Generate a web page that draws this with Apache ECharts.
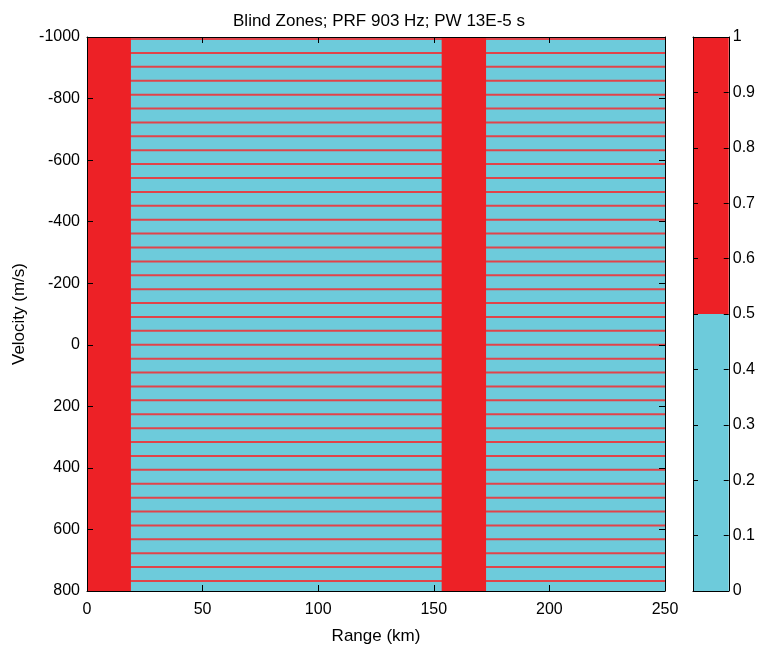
<!DOCTYPE html>
<html>
<head>
<meta charset="utf-8">
<title>Blind Zones</title>
<script src="https://cdn.jsdelivr.net/npm/echarts@6/dist/echarts.min.js"></script>
<style>
  html, body { margin: 0; padding: 0; background: #fff; }
  #chart { width: 758px; height: 651px; }
</style>
</head>
<body>
<div id="chart"></div>
<script>
// Axis extents
const rangeExtent = [0, 250];          // km
const velocityExtent = [-1000, 800];   // m/s

// Eclipsed range zones (km), value 1
const blindRanges = [[0, 19.0], [153.4, 172.6]];

// Blind speeds (m/s), value 1
const blindVelocities = [
  -993.3, -948.2, -903.0, -857.9, -812.7, -767.6, -722.4, -677.3, -632.1, -587.0,
  -541.8, -496.7, -451.5, -406.4, -361.2, -316.1, -270.9, -225.8, -180.6, -135.5,
  -90.3, -45.2, 0.0, 45.2, 90.3, 135.5, 180.6, 225.8, 270.9, 316.1,
  361.2, 406.4, 451.5, 496.7, 541.8, 587.0, 632.1, 677.3, 722.4, 767.6
];

// Colour bar segments: [from, to, level]
const colorbarLevels = [[0, 0.5, 0], [0.5, 1, 1]];

const CLEAR = '#6DCBDB';
const BLIND = '#ED2126';
const FONT = "'Liberation Sans', Arial, Helvetica, sans-serif";
const levelColor = v => (v >= 0.5 ? BLIND : CLEAR);

const chart = echarts.init(document.getElementById('chart'), null, { renderer: 'canvas' });

const tickLabel = { color: '#000', fontSize: 16, fontFamily: FONT };
const boxLine = { show: true, onZero: false, lineStyle: { color: '#000', width: 1 } };
const inTick = len => ({ show: true, inside: true, length: len, lineStyle: { color: '#000', width: 1 } });
const plain = v => String(+Number(v).toFixed(1));

function rectItem(params, api, x0, x1, y0, y1, color) {
  const p0 = api.coord([x0, y0]);
  const p1 = api.coord([x1, y1]);
  return {
    type: 'rect',
    shape: {
      x: Math.min(p0[0], p1[0]),
      y: Math.min(p0[1], p1[1]),
      width: Math.abs(p1[0] - p0[0]),
      height: Math.abs(p1[1] - p0[1])
    },
    style: { fill: color }
  };
}

const option = {
  animation: false,
  backgroundColor: '#fff',
  title: {
    text: 'Blind Zones; PRF 903 Hz; PW 13E-5 s',
    left: 'center',
    top: 8,
    textStyle: { color: '#000', fontSize: 17, fontWeight: 'normal', fontFamily: FONT }
  },
  grid: [
    { left: 87, top: 37, width: 578, height: 554, show: false },
    { left: 693, top: 37, width: 36, height: 554, show: false }
  ],
  xAxis: [
    {
      gridIndex: 0, type: 'value', position: 'bottom', z: 10,
      min: rangeExtent[0], max: rangeExtent[1], interval: 50,
      axisLine: boxLine, axisTick: inTick(6), splitLine: { show: false },
      axisLabel: Object.assign({ margin: 11, formatter: plain }, tickLabel),
      name: 'Range (km)', nameLocation: 'middle', nameGap: 37,
      nameTextStyle: { color: '#000', fontSize: 17, fontFamily: FONT }
    },
    {
      gridIndex: 0, type: 'value', position: 'top', z: 10,
      min: rangeExtent[0], max: rangeExtent[1], interval: 50,
      axisLine: boxLine, axisTick: inTick(6), splitLine: { show: false },
      axisLabel: { show: false }
    },
    {
      gridIndex: 1, type: 'value', position: 'bottom', min: 0, max: 1, z: 10,
      axisLine: boxLine, axisTick: { show: false }, splitLine: { show: false },
      axisLabel: { show: false }
    },
    {
      gridIndex: 1, type: 'value', position: 'top', min: 0, max: 1, z: 10,
      axisLine: boxLine, axisTick: { show: false }, splitLine: { show: false },
      axisLabel: { show: false }
    }
  ],
  yAxis: [
    {
      gridIndex: 0, type: 'value', position: 'left', inverse: true, z: 10,
      min: velocityExtent[0], max: velocityExtent[1], interval: 200,
      axisLine: boxLine, axisTick: inTick(6), splitLine: { show: false },
      axisLabel: Object.assign({ margin: 7, formatter: plain }, tickLabel),
      name: 'Velocity (m/s)', nameLocation: 'middle', nameGap: 54, nameRotate: 90,
      nameTextStyle: { color: '#000', fontSize: 17, fontFamily: FONT }
    },
    {
      gridIndex: 0, type: 'value', position: 'right', inverse: true, z: 10,
      min: velocityExtent[0], max: velocityExtent[1], interval: 200,
      axisLine: boxLine, axisTick: inTick(6), splitLine: { show: false },
      axisLabel: { show: false }
    },
    {
      gridIndex: 1, type: 'value', position: 'left', min: 0, max: 1, interval: 0.1, z: 10,
      axisLine: boxLine, axisTick: inTick(5), splitLine: { show: false },
      axisLabel: { show: false }
    },
    {
      gridIndex: 1, type: 'value', position: 'right', min: 0, max: 1, interval: 0.1, z: 10,
      axisLine: boxLine, axisTick: inTick(5), splitLine: { show: false },
      axisLabel: Object.assign({ margin: 4, formatter: plain }, tickLabel)
    }
  ],
  series: [
    {
      // whole range/velocity field, value 0
      name: 'clear', type: 'custom', xAxisIndex: 0, yAxisIndex: 0, z: 1,
      data: [[rangeExtent[0], rangeExtent[1], velocityExtent[0], velocityExtent[1]]],
      renderItem: (params, api) =>
        rectItem(params, api, api.value(0), api.value(1), api.value(2), api.value(3), CLEAR)
    },
    {
      // blind speeds: thin rows across every range
      name: 'blind speeds', type: 'custom', xAxisIndex: 0, yAxisIndex: 0, z: 2,
      data: blindVelocities.map(v => [v]),
      renderItem: (params, api) => {
        const v = api.value(0);
        const p0 = api.coord([rangeExtent[0], v]);
        const p1 = api.coord([rangeExtent[1], v]);
        return {
          type: 'rect',
          shape: { x: p0[0], y: p0[1] - 1, width: p1[0] - p0[0], height: 2 },
          style: { fill: '#E0444A' }
        };
      }
    },
    {
      // eclipsed range zones across every velocity
      name: 'blind ranges', type: 'custom', xAxisIndex: 0, yAxisIndex: 0, z: 3,
      data: blindRanges,
      renderItem: (params, api) =>
        rectItem(params, api, api.value(0), api.value(1), velocityExtent[0], velocityExtent[1], BLIND)
    },
    {
      name: 'colorbar', type: 'custom', xAxisIndex: 2, yAxisIndex: 2, z: 1,
      data: colorbarLevels,
      renderItem: (params, api) =>
        rectItem(params, api, 0, 1, api.value(0), api.value(1), levelColor(api.value(2)))
    }
  ]
};

chart.setOption(option);
</script>
</body>
</html>
